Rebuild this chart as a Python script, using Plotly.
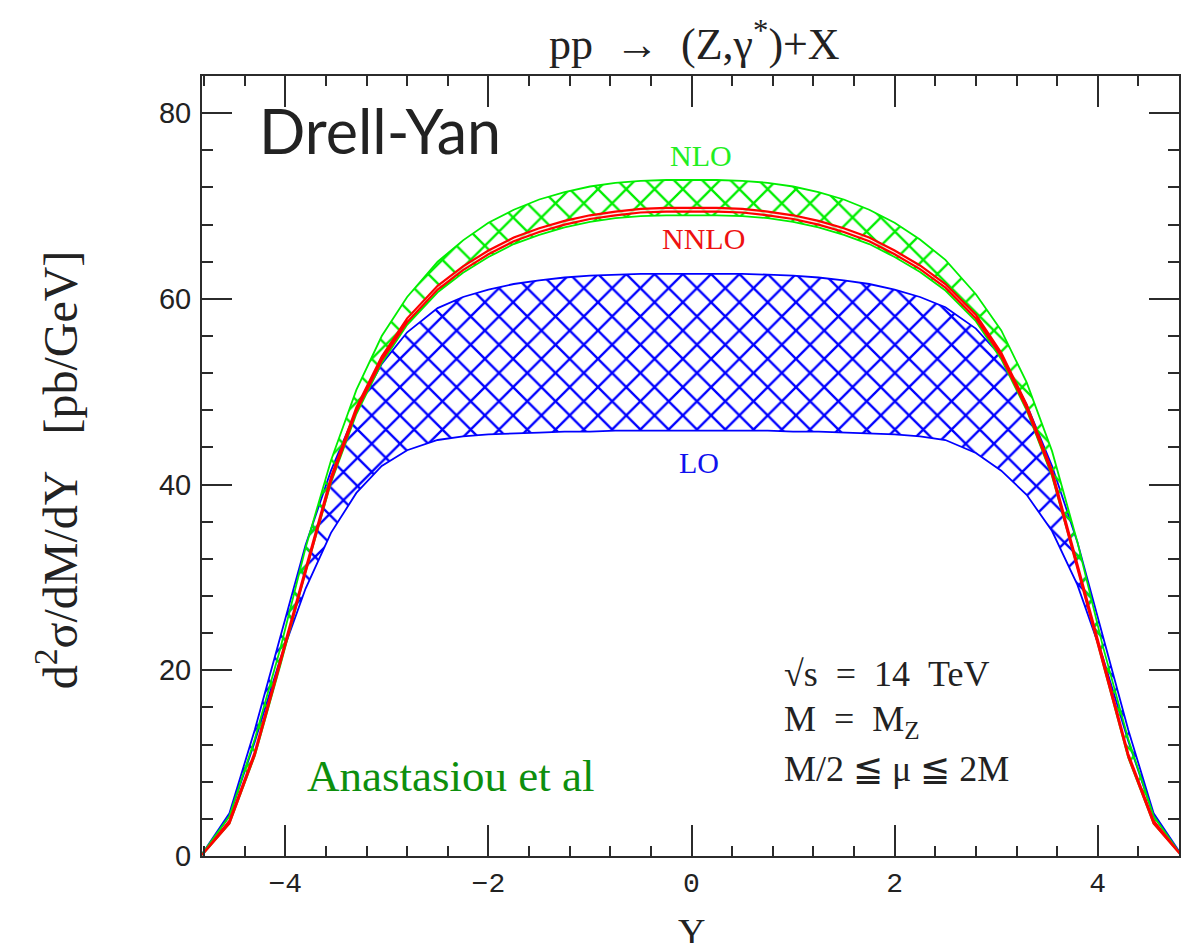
import plotly.graph_objects as go

# ---------------- data ----------------
Y = [-4.82, -4.55, -4.3, -4.05, -3.8, -3.55, -3.3, -3.05, -2.8, -2.5, -2.25, -2.0,
     -1.75, -1.5, -1.25, -1.0, -0.75, -0.5, -0.25, 0.0, 0.25, 0.5, 0.75, 1.0,
     1.25, 1.5, 1.75, 2.0, 2.25, 2.5, 2.8, 3.05, 3.3, 3.55, 3.8, 4.05, 4.3, 4.55, 4.82]

LO_hi = [0.2, 4.6, 13.6, 23.6, 33.5, 41.5, 48.0, 53.0, 56.4, 59.0, 60.2, 61.0,
         61.6, 62.0, 62.3, 62.5, 62.6, 62.7, 62.7, 62.7, 62.7, 62.7, 62.6, 62.5,
         62.3, 62.0, 61.6, 61.0, 60.2, 59.1, 56.8, 53.8, 48.6, 42.0, 33.8, 23.8, 13.6, 4.6, 0.2]
LO_lo = [0.2, 4.3, 12.3, 21.2, 28.8, 34.8, 39.1, 42.0, 43.7, 44.8, 45.2, 45.4,
         45.5, 45.6, 45.7, 45.7, 45.8, 45.8, 45.8, 45.8, 45.8, 45.8, 45.8, 45.7,
         45.7, 45.6, 45.5, 45.4, 45.2, 44.8, 43.4, 41.5, 38.9, 35.0, 29.2, 21.4, 12.4, 4.3, 0.2]

NLO_hi = [0.2, 4.3, 12.6, 22.3, 33.2, 42.6, 50.2, 56.0, 60.2, 64.0, 66.3, 68.2,
          69.6, 70.7, 71.5, 72.1, 72.5, 72.7, 72.8, 72.8, 72.8, 72.7, 72.5, 72.1,
          71.5, 70.7, 69.6, 68.2, 66.4, 64.2, 60.5, 56.6, 51.0, 43.6, 33.8, 22.6, 12.6, 4.3, 0.2]
NLO_lo = [0.1, 3.5, 10.8, 20.5, 30.6, 40.2, 47.6, 53.1, 57.2, 60.7, 62.8, 64.5,
          65.9, 66.9, 67.7, 68.3, 68.7, 68.9, 69.0, 69.0, 69.0, 68.9, 68.7, 68.3,
          67.7, 66.9, 65.9, 64.5, 62.9, 60.9, 57.6, 53.5, 48.0, 40.9, 31.1, 20.8, 10.6, 3.5, 0.1]

NNLO_hi = [0.1, 3.8, 11.2, 21.0, 31.0, 40.8, 48.3, 53.8, 57.9, 61.4, 63.5, 65.2,
           66.6, 67.6, 68.4, 69.0, 69.4, 69.7, 69.8, 69.8, 69.8, 69.7, 69.4, 69.0,
           68.4, 67.6, 66.6, 65.2, 63.6, 61.6, 58.3, 54.2, 48.6, 41.5, 31.5, 21.3, 11.0, 3.8, 0.1]
NNLO_lo = [0.1, 3.5, 10.9, 20.6, 30.6, 40.4, 47.9, 53.4, 57.5, 61.0, 63.1, 64.8,
           66.2, 67.2, 68.0, 68.6, 69.0, 69.3, 69.4, 69.4, 69.4, 69.3, 69.0, 68.6,
           68.0, 67.2, 66.2, 64.8, 63.2, 61.2, 57.9, 53.8, 48.2, 41.1, 31.1, 20.9, 10.7, 3.5, 0.1]

X_RANGE = [-4.82, 4.80]
Y_RANGE = [0, 84]

# ---------------- geometry helpers ----------------
W, H = 1181, 943
ML, MR, MT, MB = 202, 0, 76, 87
PW, PH = W - ML - MR, H - MT - MB


def pxx(x):
    return (x - ML) / PW


def pxy(y):
    return (H - MB - y) / PH


AX = '#2b2b2b'
fig = go.Figure()


def band(lo, hi, color, pattern=True, width=1.8):
    xs = Y + Y[::-1]
    ys = hi + lo[::-1]
    kw = dict(x=xs, y=ys, mode='lines', line=dict(color=color, width=width),
              hoverinfo='skip', showlegend=False)
    if pattern:
        kw.update(fill='toself', fillcolor='rgba(0,0,0,0)',
                  fillpattern=dict(shape='x', fgcolor=color, bgcolor='rgba(0,0,0,0)',
                                   size=20, solidity=0.22, fillmode='replace'))
    else:
        kw.update(fill='toself', fillcolor='rgba(255,225,225,0.7)')
    fig.add_trace(go.Scatter(**kw))


band(LO_lo, LO_hi, '#0000ff')
band(NLO_lo, NLO_hi, '#00ee00')
band(NNLO_lo, NNLO_hi, '#ff0000', pattern=False, width=2.2)

fig.update_layout(
    width=W, height=H,
    margin=dict(l=ML, r=MR, t=MT, b=MB, pad=0),
    paper_bgcolor='white', plot_bgcolor='white',
    showlegend=False,
)

fig.update_xaxes(
    range=X_RANGE, tick0=0, dtick=2, ticks='inside', ticklen=31, tickwidth=2,
    tickcolor=AX, showline=True, linecolor=AX, linewidth=2, mirror='ticks',
    showgrid=False, zeroline=False,
    minor=dict(tick0=0, dtick=0.4, ticks='inside', ticklen=10, tickwidth=2,
               tickcolor=AX, showgrid=False),
    tickfont=dict(family='Liberation Mono', size=28, color='#222'),
    ticklabelstandoff=0,
)
fig.update_yaxes(
    range=Y_RANGE, tick0=0, dtick=20, ticks='inside', ticklen=30, tickwidth=2,
    tickcolor=AX, showline=True, linecolor=AX, linewidth=2, mirror='ticks',
    showgrid=False, zeroline=False,
    minor=dict(tick0=0, dtick=4, ticks='inside', ticklen=11, tickwidth=2,
               tickcolor=AX, showgrid=False),
    tickfont=dict(family='Liberation Sans', size=29, color='#222'),
    ticklabelstandoff=3,
)

NB = '\u00a0'
annots = [
    # title
    dict(text='pp' + NB * 2 + '→' + NB * 2 + '(Z,γ<sup>*</sup>)+X', x=pxx(696), y=pxy(42),
         font=dict(family='Liberation Serif', size=44, color='#222')),
    # x axis title
    dict(text='Y', x=pxx(693), y=pxy(932),
         font=dict(family='Liberation Serif', size=38, color='#222')),
    # y axis title
    dict(text='d<sup>2</sup>σ/dM/dY' + NB * 3 + '[pb/GeV]', x=pxx(57), y=pxy(470), textangle=-90,
         font=dict(family='Liberation Serif', size=48, color='#222')),
    # band labels
    dict(text='NLO', x=pxx(702), y=pxy(155),
         font=dict(family='Liberation Serif', size=30, color='#22ee22')),
    dict(text='NNLO', x=pxx(705), y=pxy(238),
         font=dict(family='Liberation Serif', size=30, color='#ee1111')),
    dict(text='LO', x=pxx(700), y=pxy(462),
         font=dict(family='Liberation Serif', size=30, color='#1111ee')),
]
for a in annots:
    fig.add_annotation(xref='paper', yref='paper', showarrow=False,
                       xanchor='center', yanchor='middle', **a)

left_annots = [
    dict(text='Drell-Yan', x=pxx(257), y=pxy(131),
         font=dict(family='Lato', size=61, color='#222')),
    dict(text='Anastasiou et al', x=pxx(305), y=pxy(776),
         font=dict(family='Liberation Serif', size=45, color='#0d8f0d')),
    dict(text='√s' + NB * 2 + '=' + NB * 2 + '14' + NB * 2 + 'TeV', x=pxx(783), y=pxy(674),
         font=dict(family='Liberation Serif', size=36, color='#222')),
    dict(text='M' + NB * 2 + '=' + NB * 2 + 'M<sub>Z</sub>', x=pxx(783), y=pxy(721),
         font=dict(family='Liberation Serif', size=36, color='#222')),
    dict(text='M/2' + NB + '≦' + NB + 'μ' + NB + '≦' + NB + '2M', x=pxx(783), y=pxy(769),
         font=dict(family='Liberation Serif', size=36, color='#222')),
]
for a in left_annots:
    fig.add_annotation(xref='paper', yref='paper', showarrow=False,
                       xanchor='left', yanchor='middle', **a)

fig.write_html('out.html')
